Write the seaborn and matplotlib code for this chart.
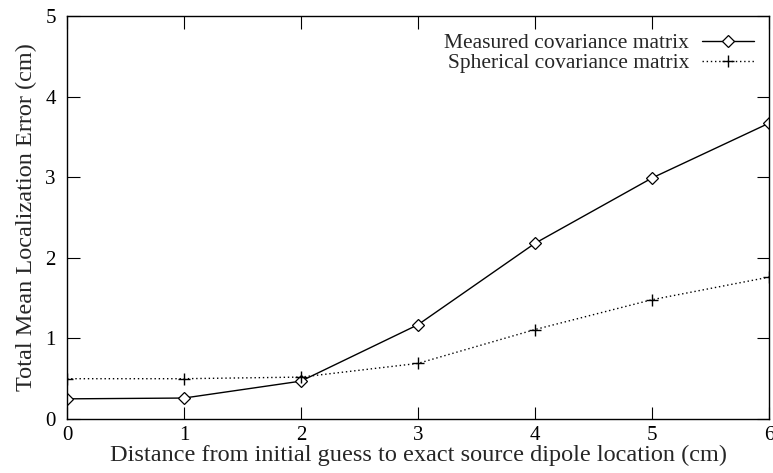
import matplotlib
matplotlib.use("Agg")
import matplotlib.pyplot as plt
import seaborn as sns
import pandas as pd

x_vals = [0, 1, 2, 3, 4, 5, 6]
measured = [0.25, 0.26, 0.47, 1.17, 2.18, 2.99, 3.67]
spherical = [0.50, 0.50, 0.52, 0.69, 1.11, 1.48, 1.76]
labels = ["Measured covariance matrix", "Spherical covariance matrix"]

sns.set_style("ticks")
plt.rcParams["font.family"] = ["Liberation Serif", "DejaVu Serif"]

df = pd.DataFrame({
    "x": x_vals * 2,
    "y": measured + spherical,
    "series": [labels[0]] * len(x_vals) + [labels[1]] * len(x_vals),
})

fig = plt.figure(figsize=(7.73, 4.73), dpi=100)
ax = fig.add_axes([67 / 773, 1 - 419 / 473, (769 - 67) / 773, (419 - 16) / 473])

d1 = df[df.series == labels[0]]
d2 = df[df.series == labels[1]]
sns.lineplot(data=d1, x="x", y="y", ax=ax, color="black", lw=1.0, marker="D",
             markersize=6, markerfacecolor="white", markeredgecolor="black",
             markeredgewidth=0.9, label=labels[0])
sns.lineplot(data=d2, x="x", y="y", ax=ax, color="black", lw=1.0, linestyle=(0, (1, 2)),
             marker="+", markersize=9, markeredgecolor="black", markeredgewidth=1.0,
             label=labels[1])

ax.set_xlim(0, 6)
ax.set_ylim(0, 5)
ax.set_xticks(range(0, 7))
ax.set_yticks(range(0, 6))
ax.tick_params(direction="in", length=9, width=0.8, top=True, right=True,
               labelsize=15, pad=8, colors="black")
ax.tick_params(axis="x", pad=5)
for s in ax.spines.values():
    s.set_linewidth(1.0)
    s.set_color("black")
ax.set_xlabel("Distance from initial guess to exact source dipole location (cm)", fontsize=17.5, labelpad=0)
ax.set_ylabel("Total Mean Localization Error (cm)", fontsize=17.5, labelpad=6)

leg = ax.legend(loc="upper right", frameon=False, markerfirst=False, fontsize=15.5,
                handlelength=2.4, borderaxespad=0.3, labelspacing=0.0, handletextpad=0.6,
                bbox_to_anchor=(1.0, 0.995))

fig.savefig("out.png", dpi=100)
